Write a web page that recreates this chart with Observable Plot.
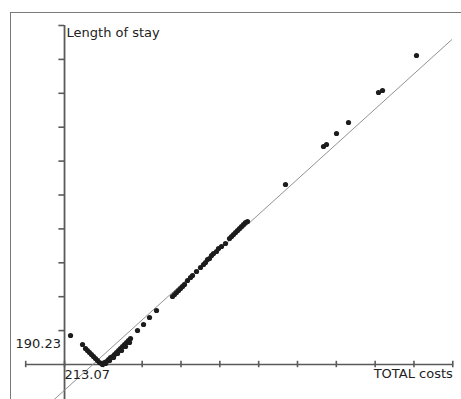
<!DOCTYPE html>
<html>
<head>
<meta charset="utf-8">
<script src="https://cdn.jsdelivr.net/npm/d3@7"></script>
<script src="https://cdn.jsdelivr.net/npm/@observablehq/plot@0.6"></script>
<style>
  html, body { margin: 0; padding: 0; background: #fff; }
  #wrap { position: relative; width: 461px; height: 399px; overflow: hidden; }
  #border { position: absolute; left: 10px; top: 12px; width: 470px; height: 400px;
            border-left: 1px solid #7a7a7a; border-top: 1px solid #7a7a7a; }
  #chart { position: absolute; left: 0; top: 0; }
  svg { font-family: "DejaVu Sans", sans-serif; }
</style>
</head>
<body>
<div id="wrap"><div id="border"></div><div id="chart"></div></div>
<script>
// Axis origin labels (values at the crossing of the axes)
const xOriginLabel = "213.07";
const yOriginLabel = "190.23";
const xTitle = "TOTAL costs";
const yTitle = "Length of stay";

// Values in axis-tick units measured from the origin (213.07, 190.23)
const costs = [
  0.155,
  0.464, 0.541, 0.592, 0.644, 0.695, 0.747, 0.798, 0.850, 0.901, 0.953,
  0.979, 1.030, 1.082, 1.133, 1.185, 1.236, 1.288, 1.339, 1.391, 1.442, 1.494, 1.545, 1.597, 1.648, 1.700,
  1.056, 1.159, 1.262, 1.365, 1.468, 1.571, 1.674,
  1.880, 2.035, 2.189, 2.369,
  2.781, 2.833, 2.884, 2.936, 2.987, 3.039, 3.090, 3.168, 3.245, 3.296, 3.399, 3.502, 3.580, 3.631,
  3.683, 3.734, 3.786, 3.837, 3.914, 3.966, 4.043, 4.146, 4.249, 4.301, 4.352, 4.404, 4.455, 4.507,
  4.558, 4.610, 4.661, 4.713,
  5.691, 6.670, 6.747, 7.005, 7.314, 8.087, 8.190, 9.065
];
const stay = [
  0.855,
  0.590, 0.472, 0.413, 0.354, 0.295, 0.236, 0.177, 0.118, 0.059, 0.029,
  0.000, 0.059, 0.088, 0.147, 0.206, 0.236, 0.295, 0.354, 0.413, 0.472, 0.531, 0.590, 0.649, 0.708, 0.767,
  0.029, 0.118, 0.206, 0.324, 0.413, 0.531, 0.649,
  1.003, 1.180, 1.386, 1.593,
  2.006, 2.065, 2.124, 2.183, 2.242, 2.301, 2.360, 2.478, 2.566, 2.625, 2.743, 2.861, 2.950, 3.009,
  3.097, 3.127, 3.215, 3.274, 3.333, 3.422, 3.481, 3.569, 3.717, 3.776, 3.835, 3.894, 3.953, 4.012,
  4.071, 4.130, 4.189, 4.218,
  5.310, 6.431, 6.490, 6.814, 7.139, 8.024, 8.083, 9.115
];

// Fitted line end points
const fitX = [-0.62, 9.97];
const fitY = [-1.40, 9.58];

// Tick positions
const xTicks = [-1, 0, 1, 2, 3, 4, 5, 6, 7, 8, 9, 10];
const yTicks = [1, 2, 3, 4, 5, 6, 7, 8, 9, 10];

const points = costs.map((c, i) => ({x: c, y: stay[i]}));
const fit = fitX.map((x, i) => ({x, y: fitY[i]}));

const axisColor = "#5a5a5a";
const textColor = "#222";

const chart = Plot.plot({
  width: 461,
  height: 399,
  marginLeft: 0, marginRight: 0, marginTop: 0, marginBottom: 0,
  x: {domain: [-1, 10], range: [25.2, 452.3], axis: null},
  y: {domain: [0, 10], range: [364, 25], axis: null},
  style: {fontFamily: "DejaVu Sans, sans-serif", fontSize: "13px", background: "transparent", overflow: "visible"},
  marks: [
    // axes lines
    Plot.ruleY([0], {x1: xTicks[0], x2: xTicks[xTicks.length - 1], stroke: axisColor, strokeWidth: 1.6}),
    Plot.ruleX([0], {y1: -1.1, y2: yTicks[yTicks.length - 1], stroke: axisColor, strokeWidth: 1.8}),
    // x ticks crossing the axis
    Plot.ruleX(xTicks, {y1: -0.095, y2: 0.095, stroke: axisColor, strokeWidth: 1.6}),
    // y ticks on the left
    Plot.ruleY(yTicks, {x1: -0.145, x2: 0, stroke: axisColor, strokeWidth: 1.6}),
    // fitted line
    Plot.line(fit, {x: "x", y: "y", stroke: "#929292", strokeWidth: 1}),
    // points
    Plot.dot(points, {x: "x", y: "y", r: 2.6, fill: "#1c1c1c", stroke: "none"}),
    // labels
    Plot.text([yTitle], {x: 0, y: 10, text: d => d, textAnchor: "start", dx: 2, dy: 7, fill: textColor, fontSize: 13}),
    Plot.text([xTitle], {x: 10, y: 0, text: d => d, textAnchor: "end", dx: 0, dy: 9, fill: textColor, fontSize: 13}),
    Plot.text([xOriginLabel], {x: 0, y: 0, text: d => d, textAnchor: "start", dx: 0, dy: 10, fill: textColor, fontSize: 13}),
    Plot.text([yOriginLabel], {x: 0, y: 0, text: d => d, textAnchor: "end", dx: -3.5, dy: -21, fill: textColor, fontSize: 13})
  ]
});
document.getElementById("chart").appendChild(chart);
</script>
</body>
</html>
